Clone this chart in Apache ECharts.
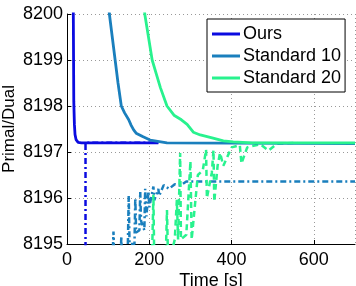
<!DOCTYPE html>
<html><head><meta charset="utf-8">
<script src="https://cdn.jsdelivr.net/npm/echarts@6/dist/echarts.min.js"></script>
<style>html,body{margin:0;padding:0;background:#fff}#c{width:356px;height:286px}</style>
</head><body><div id="c"></div>
<script>
// ---- data ----
const seriesNames = ['Ours', 'Standard 10', 'Standard 20'];
const xTicks = [0, 200, 400, 600];
const yTicks = [8195, 8196, 8197, 8198, 8199, 8200];

const oursPrimal = [[15,8200.6],[16.5,8198.1],[18,8197.6],[19.5,8197.38],[22,8197.27],[27,8197.21],[35,8197.2],[222,8197.2]];
const oursDual = [[45,8194],[45,8197.2],[222,8197.2]];

const std10Primal = [[100,8200.3],[103,8200],[110,8199.5],[117,8199],[124,8198.5],[132,8198.0],[140,8197.85],[150,8197.7],[156,8197.58],[162,8197.48],[168,8197.41],[185,8197.33],[202,8197.26],[243,8197.2],[700,8197.18]];
const std10Dual = [[108,8194.0],[113,8195.27],[116,8194.0],[128,8194.0],[132,8195.17],[135,8194.0],[146,8194.0],[150,8196.05],[152,8195.0],[164,8195.0],[166,8196.0],[168,8195.25],[176,8195.3],[178,8196.13],[180,8195.5],[188,8195.3],[190,8196.2],[193,8195.6],[198,8196.15],[200,8195.8],[210,8196.25],[212,8195.95],[222,8196.2],[224,8196.05],[235,8196.28],[248,8196.2],[262,8196.3],[275,8196.27],[290,8196.36],[700,8196.36]];

const std20Primal = [[186,8200.3],[189,8200],[198,8199.5],[207,8199],[217,8198.7],[227,8198.4],[243,8198.0],[260,8197.8],[278,8197.7],[292,8197.6],[307,8197.43],[324,8197.37],[355,8197.3],[380,8197.24],[404,8197.22],[450,8197.2],[700,8197.2]];
const std20Dual = [[205,8194.0],[210,8196.07],[213,8194.0],[238,8194.0],[243,8195.74],[246,8194.5],[262,8195.1],[267,8195.96],[270,8195.1],[273,8195.1],[275,8196.98],[277,8195.1],[290,8195.2],[300,8196.8],[303,8195.1],[318,8196.5],[330,8196.6],[338,8197.05],[340,8196.0],[352,8196.55],[356,8197.04],[358,8195.92],[366,8196.7],[372,8196.98],[380,8196.7],[400,8197.1],[420,8197.15],[424,8196.75],[438,8197.1],[445,8197.12],[470,8197.17],[490,8197.03],[510,8197.18],[560,8197.2]];

// ---- chart ----
const colors = ['#0b0be0', '#1a7fbd', '#28f28e'];
const font = 'Liberation Sans, Arial, Helvetica, sans-serif';
const chart = echarts.init(document.getElementById('c'), null, {renderer: 'canvas'});

function primal(name, data, color) {
  return {name, type: 'line', data, showSymbol: false, symbol: 'none', animation: false,
    lineStyle: {color, width: 2.8}, itemStyle: {color}, z: 3};
}
function dual(name, data, color, dash) {
  return {name, type: 'line', data, showSymbol: false, symbol: 'none', animation: false,
    lineStyle: {color, width: 2.5, type: dash}, itemStyle: {color}, z: 2};
}

chart.setOption({
  animation: false,
  textStyle: {fontFamily: font},
  grid: {left: 67, right: 1, top: 14, bottom: 42, containLabel: false, outerBoundsMode: 'none'},
  legend: {
    data: seriesNames, orient: 'vertical', left: 207, top: 19,
    icon: 'rect', itemWidth: 28, itemHeight: 3, itemGap: 4,
    padding: [6, 4, 5, 5],
    backgroundColor: '#fff', borderColor: '#000', borderWidth: 1,
    textStyle: {fontFamily: font, fontSize: 18, color: '#000', padding: [0,0,0,-2]}
  },
  xAxis: {
    type: 'value', min: xTicks[0], max: 700, interval: 200,
    name: 'Time [s]', nameLocation: 'middle', nameGap: 28, nameMoveOverlap: false,
    nameTextStyle: {fontFamily: font, fontSize: 18, color: '#000'},
    axisLine: {show: true, lineStyle: {color: '#000', width: 1}},
    axisTick: {show: true, inside: true, length: 4, lineStyle: {color: '#000'}},
    axisLabel: {fontFamily: font, fontSize: 18, color: '#000', margin: 7, showMaxLabel: false,
      formatter: v => String(v)},
    splitLine: {show: true, lineStyle: {color: '#999', type: [1, 3], width: 1}}
  },
  yAxis: {
    type: 'value', min: yTicks[0], max: yTicks[yTicks.length-1], interval: 1,
    name: 'Primal/Dual', nameLocation: 'middle', nameGap: 49, nameMoveOverlap: false,
    nameTextStyle: {fontFamily: font, fontSize: 17, color: '#000'},
    axisLine: {show: true, lineStyle: {color: '#000', width: 1}},
    axisTick: {show: true, inside: true, length: 4, lineStyle: {color: '#000'}},
    axisLabel: {fontFamily: font, fontSize: 18, color: '#000', margin: 4,
      formatter: v => String(v)},
    splitLine: {show: true, lineStyle: {color: '#999', type: [1, 3], width: 1}}
  },
  series: [
    dual('Ours dual', oursDual, colors[0], [6, 3, 2, 3]),
    dual('Standard 10 dual', std10Dual, colors[1], [6, 3, 2, 3]),
    dual('Standard 20 dual', std20Dual, colors[2], [6, 4]),
    primal(seriesNames[0], oursPrimal, colors[0]),
    primal(seriesNames[1], std10Primal, colors[1]),
    primal(seriesNames[2], std20Primal, colors[2])
  ]
});
</script></body></html>
